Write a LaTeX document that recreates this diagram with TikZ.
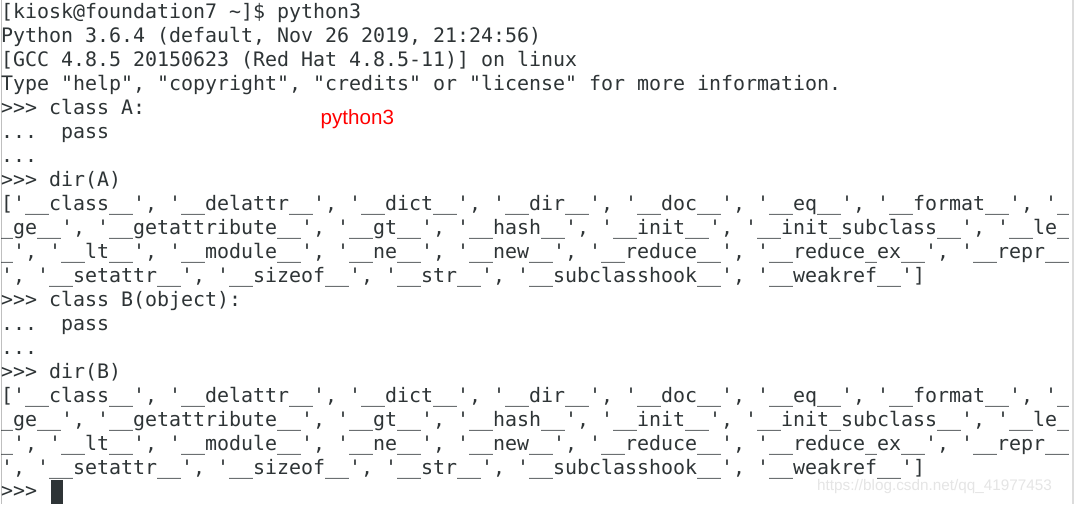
\documentclass[tikz,border=0pt]{standalone}
\usepackage{fontspec}
\setmonofont{DejaVu Sans Mono}
\newfontfamily\markfont{Liberation Sans}
\definecolor{termfg}{HTML}{2E3436}
\definecolor{termbar}{HTML}{DCDCDC}
\tikzset{
  termline/.style={anchor=base west, inner sep=0pt, text=termfg,
    font=\ttfamily\fontsize{19.93pt}{24pt}\selectfont},
  redmark/.style={anchor=base west, inner sep=0pt, text=red,
    font=\markfont\fontsize{20.6pt}{24pt}\selectfont},
  wmark/.style={anchor=base west, inner sep=0pt, text=black!10,
    font=\markfont\fontsize{15.3pt}{18pt}\selectfont},
  cursorbox/.style={anchor=south west, inner sep=0pt, fill=termfg,
    minimum width=12pt, minimum height=24pt}
}
\begin{document}
\begin{tikzpicture}

    \useasboundingbox (0,0) rectangle (1074pt,-504pt);
    \fill[white] (0,0) rectangle (1074pt,-504pt);
    \fill[black!25] (0.5pt,0) rectangle (2pt,-504pt);
    \fill[termbar] (1071.5pt,0) rectangle (1074pt,-504pt);

    \node[termline] (l0)  at (1pt,-18.5pt)  {[kiosk@foundation7 \textasciitilde]\$ python3};
    \node[termline] (l1)  at (1pt,-42.5pt)  {Python 3.6.4 (default, Nov 26 2019, 21:24:56)};
    \node[termline] (l2)  at (1pt,-66.5pt)  {[GCC 4.8.5 20150623 (Red Hat 4.8.5-11)] on linux};
    \node[termline] (l3)  at (1pt,-90.5pt)  {Type "help", "copyright", "credits" or "license" for more information.};
    \node[termline] (l4)  at (1pt,-114.5pt) {>>> class A:};
    \node[termline] (l5)  at (1pt,-138.5pt) {...\ \ pass};
    \node[termline] (l6)  at (1pt,-162.5pt) {...};
    \node[termline] (l7)  at (1pt,-186.5pt) {>>> dir(A)};
    \node[termline] (l8)  at (1pt,-210.5pt) {['\_\_class\_\_', '\_\_delattr\_\_', '\_\_dict\_\_', '\_\_dir\_\_', '\_\_doc\_\_', '\_\_eq\_\_', '\_\_format\_\_', '\_};
    \node[termline] (l9)  at (1pt,-234.5pt) {\_ge\_\_', '\_\_getattribute\_\_', '\_\_gt\_\_', '\_\_hash\_\_', '\_\_init\_\_', '\_\_init\_subclass\_\_', '\_\_le\_};
    \node[termline] (l10) at (1pt,-258.5pt) {\_', '\_\_lt\_\_', '\_\_module\_\_', '\_\_ne\_\_', '\_\_new\_\_', '\_\_reduce\_\_', '\_\_reduce\_ex\_\_', '\_\_repr\_\_};
    \node[termline] (l11) at (1pt,-282.5pt) {', '\_\_setattr\_\_', '\_\_sizeof\_\_', '\_\_str\_\_', '\_\_subclasshook\_\_', '\_\_weakref\_\_']};
    \node[termline] (l12) at (1pt,-306.5pt) {>>> class B(object):};
    \node[termline] (l13) at (1pt,-330.5pt) {...\ \ pass};
    \node[termline] (l14) at (1pt,-354.5pt) {...};
    \node[termline] (l15) at (1pt,-378.5pt) {>>> dir(B)};
    \node[termline] (l16) at (1pt,-402.5pt) {['\_\_class\_\_', '\_\_delattr\_\_', '\_\_dict\_\_', '\_\_dir\_\_', '\_\_doc\_\_', '\_\_eq\_\_', '\_\_format\_\_', '\_};
    \node[termline] (l17) at (1pt,-426.5pt) {\_ge\_\_', '\_\_getattribute\_\_', '\_\_gt\_\_', '\_\_hash\_\_', '\_\_init\_\_', '\_\_init\_subclass\_\_', '\_\_le\_};
    \node[termline] (l18) at (1pt,-450.5pt) {\_', '\_\_lt\_\_', '\_\_module\_\_', '\_\_ne\_\_', '\_\_new\_\_', '\_\_reduce\_\_', '\_\_reduce\_ex\_\_', '\_\_repr\_\_};
    \node[termline] (l19) at (1pt,-474.5pt) {', '\_\_setattr\_\_', '\_\_sizeof\_\_', '\_\_str\_\_', '\_\_subclasshook\_\_', '\_\_weakref\_\_']};
    \node[termline] (l20) at (1pt,-497.5pt) {>>>};
    \node[cursorbox] (cur) at (50.5pt,-504pt) {};

    \node[redmark] (tag) at (320.5pt,-124pt) {python3};
    \node[wmark] (wm) at (817pt,-490pt) {https://blog.csdn.net/qq\_41977453};
\end{tikzpicture}
\end{document}
